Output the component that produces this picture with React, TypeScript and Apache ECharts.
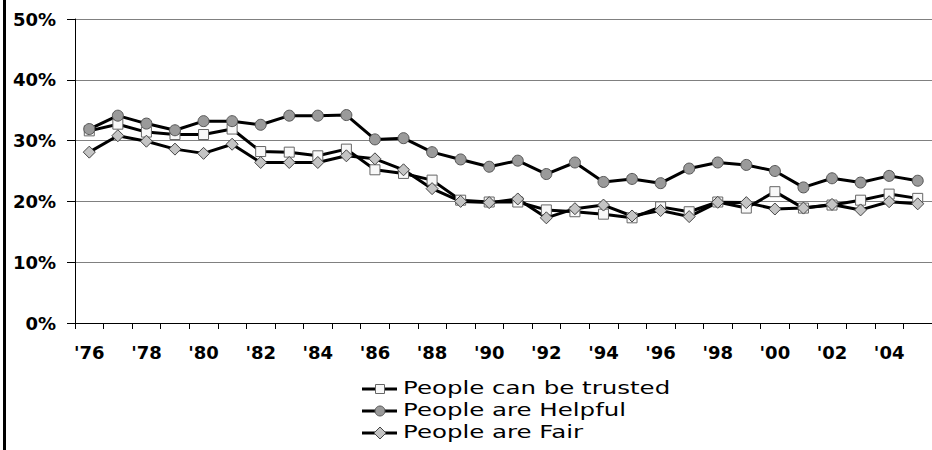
import React, { useEffect, useRef } from "react";
import * as echarts from "echarts";

const categories = [
  "'76", "'77", "'78", "'79", "'80", "'81", "'82", "'83", "'84", "'85",
  "'86", "'87", "'88", "'89", "'90", "'91", "'92", "'93", "'94", "'95",
  "'96", "'97", "'98", "'99", "'00", "'01", "'02", "'03", "'04", "'05",
];

const trusted = [
  31.6, 32.7, 31.4, 31.0, 31.0, 31.9, 28.2, 28.1, 27.5, 28.6,
  25.2, 24.6, 23.5, 20.2, 19.9, 19.9, 18.6, 18.3, 17.9, 17.3,
  19.1, 18.3, 19.9, 18.9, 21.6, 18.9, 19.4, 20.2, 21.2, 20.5,
];

const helpful = [
  31.9, 34.1, 32.8, 31.7, 33.2, 33.2, 32.6, 34.1, 34.1, 34.2,
  30.2, 30.4, 28.1, 26.9, 25.7, 26.7, 24.5, 26.4, 23.2, 23.7,
  23.0, 25.4, 26.4, 26.0, 25.0, 22.3, 23.8, 23.1, 24.2, 23.4,
];

const fair = [
  28.1, 30.8, 29.9, 28.6, 27.9, 29.4, 26.4, 26.4, 26.4, 27.5,
  27.0, 25.2, 22.1, 20.0, 19.8, 20.4, 17.3, 18.8, 19.4, 17.6,
  18.5, 17.5, 19.85, 19.8, 18.75, 18.9, 19.5, 18.6, 19.95, 19.6,
];

const seriesNames = ["People can be trusted", "People are Helpful", "People are Fair"];

const FONT = "'DejaVu Sans', Verdana, sans-serif";

export default function App() {
  const ref = useRef<HTMLDivElement>(null);

  useEffect(() => {
    if (!ref.current) return;
    const chart = echarts.init(ref.current, undefined, { renderer: "svg" });

    const lineStyle = { color: "#000", width: 3 };
    const legendRows = [389, 411, 433];
    const iconX = 380;

    const legendGraphics: any[] = [];
    legendRows.forEach((y, i) => {
      legendGraphics.push({
        type: "line",
        shape: { x1: 362, y1: y, x2: 397, y2: y },
        style: { stroke: "#000", lineWidth: 3 },
      });
      if (i === 0) {
        legendGraphics.push({
          type: "rect",
          shape: { x: iconX - 4.5, y: y - 4.5, width: 9, height: 9 },
          style: { fill: "#f8f8f8", stroke: "#666", lineWidth: 1 },
        });
      } else if (i === 1) {
        legendGraphics.push({
          type: "circle",
          shape: { cx: iconX, cy: y, r: 5 },
          style: { fill: "#9a9a9a", stroke: "#555", lineWidth: 1 },
        });
      } else {
        legendGraphics.push({
          type: "polygon",
          shape: { points: [[iconX, y - 6], [iconX + 6, y], [iconX, y + 6], [iconX - 6, y]] },
          style: { fill: "#c4c4c4", stroke: "#444", lineWidth: 1 },
        });
      }
      legendGraphics.push({
        type: "text",
        x: 403,
        y: y - 1,
        scaleX: 1.36,
        style: {
          text: seriesNames[i],
          fontFamily: FONT,
          fontSize: 18,
          fill: "#000",
          textAlign: "left",
          textVerticalAlign: "middle",
        },
      });
    });

    chart.setOption({
      animation: false,
      backgroundColor: "#fff",
      grid: { left: 75, right: -5, top: 19, bottom: 127, containLabel: false },
      xAxis: {
        type: "category",
        data: categories,
        boundaryGap: true,
        axisLine: { show: true, lineStyle: { color: "#000", width: 1 } },
        axisTick: { show: true, interval: 0, length: 6, lineStyle: { color: "#000", width: 1 } },
        axisLabel: {
          interval: 1,
          fontFamily: FONT,
          fontWeight: "bold",
          fontSize: 18,
          color: "#000",
          margin: 20,
        },
        splitLine: { show: false },
      },
      yAxis: {
        type: "value",
        min: 0,
        max: 50,
        interval: 10,
        axisLine: { show: true, lineStyle: { color: "#000", width: 1 } },
        axisTick: { show: true, length: 8, lineStyle: { color: "#000", width: 1 } },
        axisLabel: {
          formatter: "{value}%",
          fontFamily: FONT,
          fontWeight: "bold",
          fontSize: 18,
          color: "#000",
          margin: 19,
          padding: [5, 0, 0, 0],
        },
        splitLine: { show: true, lineStyle: { color: "#808080", width: 1 } },
      },
      series: [
        {
          name: seriesNames[0],
          type: "line",
          data: trusted,
          symbol: "rect",
          symbolSize: 10,
          showAllSymbol: true,
          lineStyle,
          itemStyle: { color: "#f8f8f8", borderColor: "#666", borderWidth: 1 },
          emphasis: { disabled: true },
        },
        {
          name: seriesNames[1],
          type: "line",
          data: helpful,
          symbol: "circle",
          symbolSize: 11,
          showAllSymbol: true,
          lineStyle,
          itemStyle: { color: "#9a9a9a", borderColor: "#555", borderWidth: 1 },
          emphasis: { disabled: true },
        },
        {
          name: seriesNames[2],
          type: "line",
          data: fair,
          symbol: "diamond",
          symbolSize: 12,
          showAllSymbol: true,
          lineStyle,
          itemStyle: { color: "#c4c4c4", borderColor: "#444", borderWidth: 1 },
          emphasis: { disabled: true },
        },
      ],
      graphic: [
        {
          type: "rect",
          shape: { x: 3, y: 0, width: 3, height: 450 },
          style: { fill: "#000" },
        },
        ...legendGraphics,
      ],
    });

    return () => chart.dispose();
  }, []);

  return (
    <div
      style={{ position: "fixed", left: 0, top: 0, width: 932, height: 450, background: "#fff" }}
    >
      <div ref={ref} style={{ width: 932, height: 450 }} />
    </div>
  );
}
